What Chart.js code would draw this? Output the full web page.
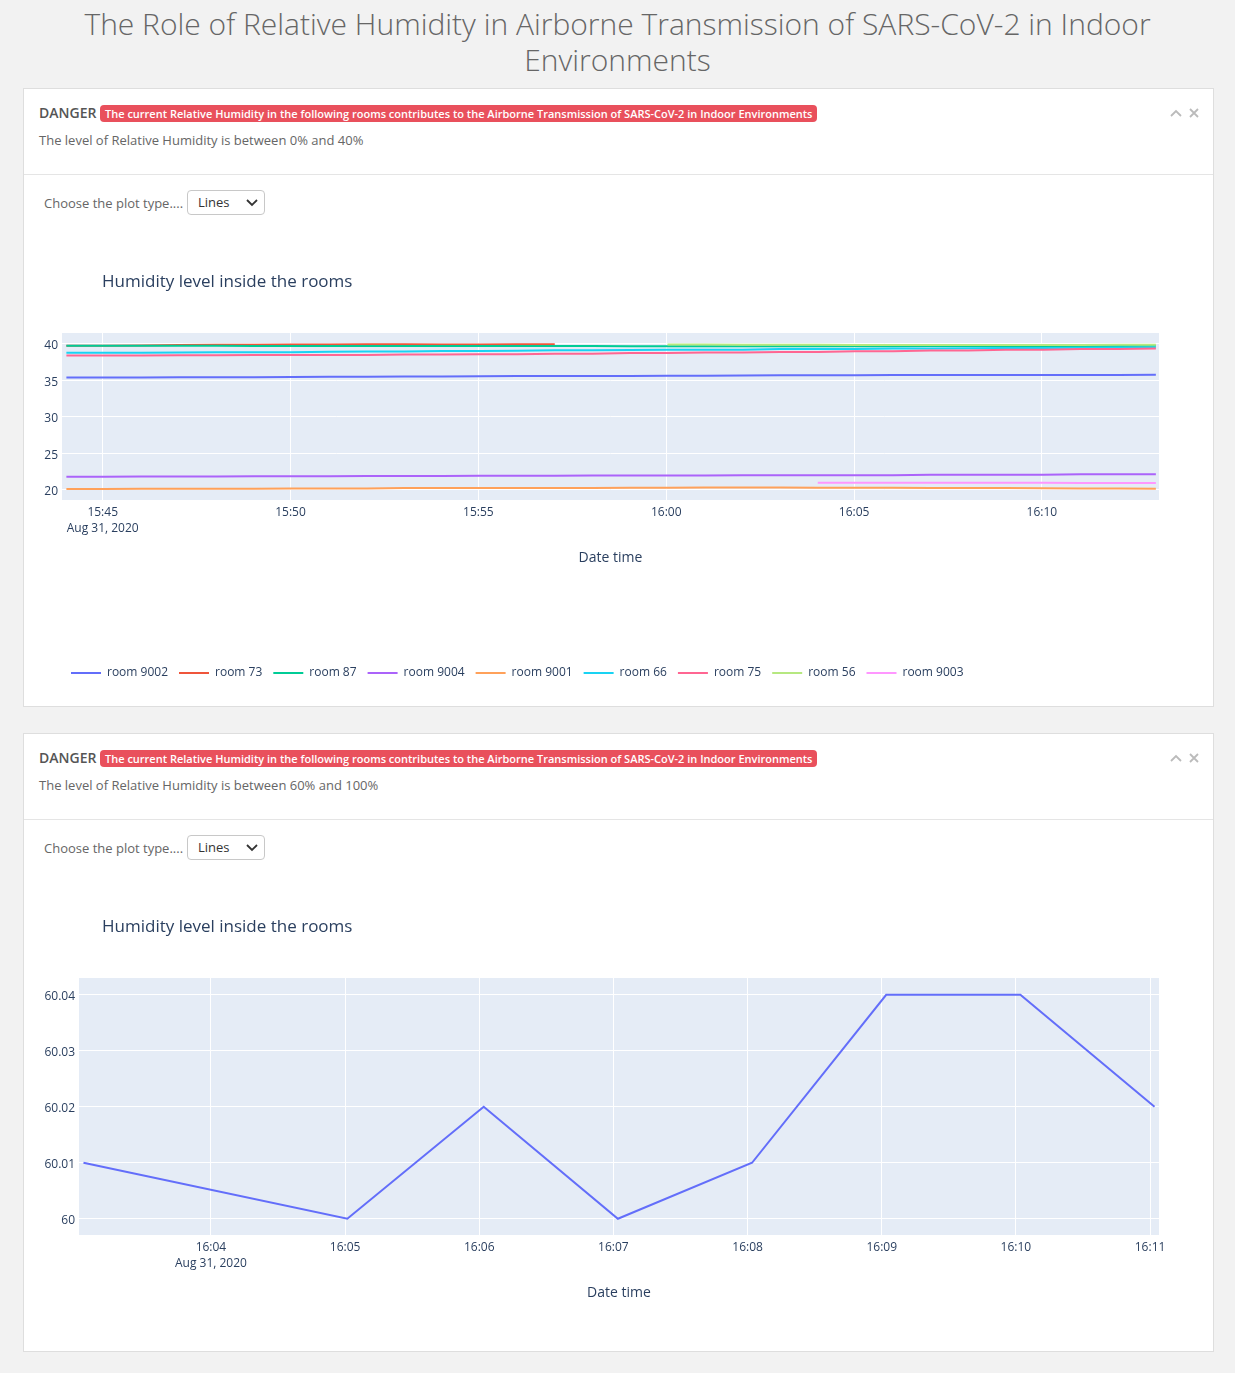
<!DOCTYPE html>
<html>
<head>
<meta charset="utf-8">
<script src="https://cdn.jsdelivr.net/npm/chart.js@4.4.1/dist/chart.umd.min.js"></script>
<style>
body { margin: 0; background: #f2f2f2; font-family: "Open Sans", sans-serif; width: 1235px; height: 1373px; position: relative; overflow: hidden; }
h1 { position: absolute; left: 40px; width: 1155px; top: 6px; margin: 0; text-align: center; font-weight: 300; font-size: 30px; line-height: 36px; color: #666; }
.card { position: absolute; left: 23px; width: 1189px; height: 617px; background: #fff; border: 1px solid #dedede; }
.danger { position: absolute; left: 15px; top: 14px; font-size: 14px; line-height: 20px; font-weight: 600; color: #555; }
.badge { position: absolute; left: 76px; top: 16px; height: 17px; line-height: 17px; padding: 0 5px; border-radius: 4px; background: #e9505c; color: #fff; font-size: 11px; font-weight: 600; white-space: nowrap; }
.sub { position: absolute; left: 15px; top: 42px; font-size: 13px; line-height: 18px; color: #666; }
.tools { position: absolute; left: 1146px; top: 13px; }
.sep { position: absolute; left: 0; right: 0; top: 85px; border-top: 1px solid #e5e5e5; }
.choose { position: absolute; left: 20px; top: 105px; font-size: 13px; line-height: 18px; color: #666; }
.select { position: absolute; left: 163px; top: 101px; width: 76px; height: 23px; border: 1px solid #c8c8c8; border-radius: 4px; font-size: 13px; line-height: 23px; color: #333; }
.select span { position: absolute; left: 10px; }
.select svg { position: absolute; left: 58px; top: 8px; }
canvas { position: absolute; left: 0; top: 141px; }
</style>
</head>
<body>
<h1>The Role of Relative Humidity in Airborne Transmission of SARS-CoV-2 in Indoor Environments</h1>

<div class="card" style="top: 88px;">
  <div class="danger">DANGER</div>
  <div class="badge">The current Relative Humidity in the following rooms contributes to the Airborne Transmission of SARS-CoV-2 in Indoor Environments</div>
  <div class="sub">The level of Relative Humidity is between 0% and 40%</div>
  <div class="tools"><svg width="40" height="12"><path d="M1 9 L6 4 L11 9" stroke="#bbb" stroke-width="1.8" fill="none"/><path d="M20 2 L28 10 M28 2 L20 10" stroke="#bbb" stroke-width="1.8"/></svg></div>
  <div class="sep"></div>
  <div class="choose">Choose the plot type....</div>
  <div class="select"><span>Lines</span><svg width="12" height="8"><path d="M1 1 L6 6 L11 1" stroke="#333" stroke-width="1.8" fill="none"/></svg></div>
  <canvas id="grafica1" width="1189" height="470"></canvas>
</div>

<div class="card" style="top: 733px;">
  <div class="danger">DANGER</div>
  <div class="badge">The current Relative Humidity in the following rooms contributes to the Airborne Transmission of SARS-CoV-2 in Indoor Environments</div>
  <div class="sub">The level of Relative Humidity is between 60% and 100%</div>
  <div class="tools"><svg width="40" height="12"><path d="M1 9 L6 4 L11 9" stroke="#bbb" stroke-width="1.8" fill="none"/><path d="M20 2 L28 10 M28 2 L20 10" stroke="#bbb" stroke-width="1.8"/></svg></div>
  <div class="sep"></div>
  <div class="choose">Choose the plot type....</div>
  <div class="select"><span>Lines</span><svg width="12" height="8"><path d="M1 1 L6 6 L11 1" stroke="#333" stroke-width="1.8" fill="none"/></svg></div>
  <canvas id="grafica2" width="1189" height="470"></canvas>
</div>

<script>
// first plot: rooms with humidity between 0% and 40%
let times1 = ["15:44:02", "15:45:02", "15:46:02", "15:47:02", "15:48:02", "15:49:02", "15:50:02", "15:51:02", "15:52:02", "15:53:02",
              "15:54:02", "15:55:02", "15:56:02", "15:57:02", "15:58:02", "15:59:02", "16:00:02", "16:01:02", "16:02:02", "16:03:02",
              "16:04:02", "16:05:02", "16:06:02", "16:07:02", "16:08:02", "16:09:02", "16:10:02", "16:11:02", "16:12:02", "16:13:02"];
let rooms1 = ["room 9002", "room 73", "room 87", "room 9004", "room 9001", "room 66", "room 75", "room 56", "room 9003"];

let room9002 = [35.40, 35.40, 35.42, 35.45, 35.45, 35.45, 35.47, 35.50, 35.50, 35.53, 35.55, 35.58, 35.60, 35.60, 35.62,
                35.62, 35.64, 35.66, 35.68, 35.70, 35.70, 35.72, 35.74, 35.75, 35.75, 35.75, 35.76, 35.76, 35.76, 35.77];
let room73 = [39.74, 39.76, 39.80, 39.85, 39.88, 39.90, 39.92, 39.94, 39.95, 39.95, 39.93, 39.92, 39.95, 39.97, null,
              null, null, null, null, null, null, null, null, null, null, null, null, null, null, null];
let room87 = [39.75, 39.75, 39.74, 39.74, 39.74, 39.73, 39.73, 39.73, 39.72, 39.72, 39.72, 39.72, 39.71, 39.71, 39.71,
              39.70, 39.70, 39.70, 39.70, 39.70, 39.70, 39.70, 39.70, 39.71, 39.71, 39.72, 39.72, 39.72, 39.73, 39.74];
let room9004 = [21.82, 21.82, 21.85, 21.85, 21.85, 21.88, 21.88, 21.88, 21.92, 21.92, 21.92, 21.95, 21.95, 21.95, 21.98,
                21.98, 21.98, 21.98, 22.02, 22.02, 22.02, 22.02, 22.02, 22.08, 22.08, 22.08, 22.08, 22.14, 22.14, 22.15];
let room9001 = [20.15, 20.15, 20.18, 20.18, 20.18, 20.18, 20.22, 20.22, 20.22, 20.26, 20.26, 20.26, 20.26, 20.26, 20.26,
                20.30, 20.30, 20.34, 20.33, 20.33, 20.30, 20.30, 20.30, 20.28, 20.26, 20.26, 20.24, 20.20, 20.20, 20.18];
let room66 = [38.80, 38.80, 38.80, 38.82, 38.85, 38.85, 38.88, 38.92, 38.95, 38.98, 39.05, 39.05, 39.08, 39.15, 39.15,
              39.18, 39.20, 39.20, 39.22, 39.30, 39.30, 39.32, 39.38, 39.38, 39.40, 39.45, 39.45, 39.47, 39.50, 39.50];
let room75 = [38.42, 38.42, 38.42, 38.45, 38.45, 38.48, 38.48, 38.50, 38.50, 38.55, 38.55, 38.60, 38.60, 38.65, 38.65,
              38.75, 38.75, 38.82, 38.82, 38.90, 38.90, 39.00, 39.00, 39.10, 39.10, 39.20, 39.20, 39.30, 39.30, 39.38];
let room56 = [null, null, null, null, null, null, null, null, null, null, null, null, null, null, null,
              null, 39.92, 39.92, 39.90, 39.88, 39.88, 39.87, 39.86, 39.86, 39.85, 39.85, 39.86, 39.87, 39.88, 39.90];
let room9003 = [null, null, null, null, null, null, null, null, null, null, null, null, null, null, null,
                null, null, null, null, null, 21.00, 21.00, 21.00, 20.98, 20.98, 20.98, 20.98, 20.97, 20.97, 20.97];

let ticksX1 = ["15:45", "15:50", "15:55", "16:00", "16:05", "16:10"];
let ticksY1 = [20, 25, 30, 35, 40];

// second plot: rooms with humidity between 60% and 100%
let times2 = ["16:03:03", "16:05:01", "16:06:02", "16:07:02", "16:08:02", "16:09:02", "16:10:02", "16:11:02"];
let rooms2 = ["room 9002"];
let room9002b = [60.01, 60.00, 60.02, 60.00, 60.01, 60.04, 60.04, 60.02];
let ticksX2 = ["16:04", "16:05", "16:06", "16:07", "16:08", "16:09", "16:10", "16:11"];
let ticksY2 = [60, 60.01, 60.02, 60.03, 60.04];

let fecha = "Aug 31, 2020";
let colores = ["#636efa", "#EF553B", "#00cc96", "#ab63fa", "#FFA15A", "#19d3f3", "#FF6692", "#B6E880", "#FF97FF"];
let texto = "#2a3f5f";

Chart.defaults.font.family = "'Open Sans', sans-serif";

function toMinutes(t) {
    let p = t.split(":").map(Number);
    return p[0] * 60 + p[1] + (p[2] || 0) / 60;
}

function makeDatasets(times, names, series) {
    return names.map((name, i) => ({
        label: name,
        data: times.map((t, k) => ({ x: toMinutes(t), y: series[i][k] })).filter(p => p.y !== null),
        borderColor: colores[i],
        backgroundColor: colores[i],
        borderWidth: 2,
        pointRadius: 0,
        order: names.length - i
    }));
}

let plotFondo = {
    id: "plotFondo",
    beforeDraw(chart) {
        let a = chart.chartArea;
        chart.ctx.save();
        chart.ctx.fillStyle = "#e5ecf6";
        chart.ctx.fillRect(a.left, a.top, a.right - a.left, a.bottom - a.top);
        chart.ctx.restore();
    },
    afterLayout(chart) {
        // plotly places title and legend independent of the y axis
        let pad = chart.options.layout.padding.left;
        chart.titleBlock.left += 78 - pad;
        chart.titleBlock.right += 78 - pad;
        if (chart.legend) {
            chart.legend.left += 36 - pad;
            chart.legend.right += 36 - pad;
        }
    }
};

function makeOptions(cfg) {
    return {
        responsive: false,
        animation: false,
        layout: { padding: { left: cfg.padLeft, right: 54, top: 0, bottom: cfg.padBottom } },
        plugins: {
            title: {
                display: true,
                text: "Humidity level inside the rooms",
                align: "start",
                color: texto,
                font: { size: 17, weight: "normal" },
                padding: { top: 41.8, bottom: 40.8 }
            },
            legend: {
                display: cfg.legend,
                position: "bottom",
                align: "start",
                labels: {
                    usePointStyle: true,
                    pointStyle: "line",
                    pointStyleWidth: 30,
                    padding: 11,
                    color: texto,
                    font: { size: 12 },
                    sort: (a, b) => a.datasetIndex - b.datasetIndex
                }
            },
            tooltip: { enabled: false }
        },
        scales: {
            x: {
                type: "linear",
                min: toMinutes(cfg.xMin),
                max: toMinutes(cfg.xMax),
                afterBuildTicks: axis => { axis.ticks = cfg.ticksX.map(t => ({ value: toMinutes(t) })); },
                ticks: {
                    padding: 4,
                    color: texto,
                    font: { size: 12, lineHeight: 1.35 },
                    maxRotation: 0,
                    autoSkip: false,
                    callback: (v, i) => i === 0 ? [cfg.ticksX[0], fecha] : cfg.ticksX[i]
                },
                grid: { color: "#ffffff", drawTicks: false },
                border: { display: false },
                title: { display: true, text: "Date time", color: texto, font: { size: 14 }, padding: { top: 9.2, bottom: cfg.titleBottom } }
            },
            y: {
                min: cfg.yMin,
                max: cfg.yMax,
                afterBuildTicks: axis => { axis.ticks = cfg.ticksY.map(v => ({ value: v })); },
                afterFit: axis => { axis.width = cfg.yWidth; },
                ticks: {
                    padding: 4,
                    labelOffset: 2,
                    color: texto,
                    font: { size: 12 },
                    callback: v => String(Number(v.toFixed(2)))
                },
                grid: { color: "#ffffff", drawTicks: false },
                border: { display: false }
            }
        }
    };
}

new Chart(document.getElementById("grafica1").getContext("2d"), {
    type: "line",
    data: { datasets: makeDatasets(times1, rooms1, [room9002, room73, room87, room9004, room9001, room66, room75, room56, room9003]) },
    options: makeOptions({
        padLeft: 14, yWidth: 24, padBottom: 11, legend: true, titleBottom: 89.6,
        xMin: "15:43:55", xMax: "16:13:07", ticksX: ticksX1,
        yMin: 18.63, yMax: 41.5, ticksY: ticksY1
    }),
    plugins: [plotFondo]
});

new Chart(document.getElementById("grafica2").getContext("2d"), {
    type: "line",
    data: { datasets: makeDatasets(times2, rooms2, [room9002b]) },
    options: makeOptions({
        padLeft: 15, yWidth: 40, padBottom: 43.6, legend: false, titleBottom: 0,
        xMin: "16:03:01", xMax: "16:11:04", ticksX: ticksX2,
        yMin: 59.9971, yMax: 60.043, ticksY: ticksY2
    }),
    plugins: [plotFondo]
});
</script>
</body>
</html>
